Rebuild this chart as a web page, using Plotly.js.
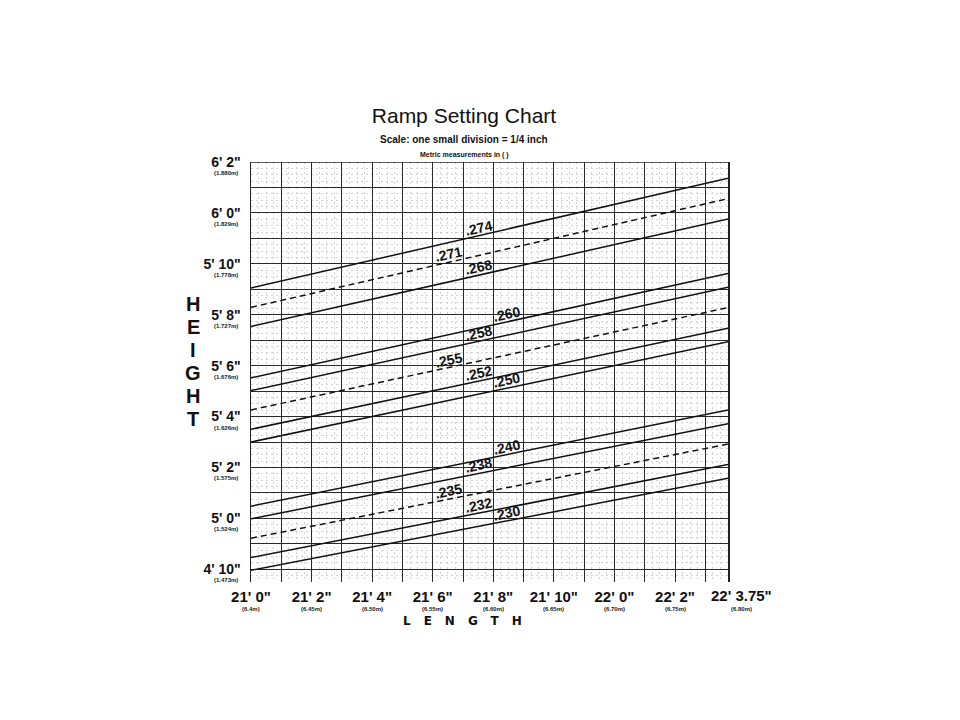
<!DOCTYPE html>
<html><head><meta charset="utf-8">
<script src="https://cdn.plot.ly/plotly-3.0.1.min.js"></script>
<style>html,body{margin:0;padding:0;background:#fff;} #chart{width:960px;height:720px;}</style>
</head><body><div id="chart"></div>
<script>
// ---- data (inches) ----
const slopeLabels = ['.274','.271','.268','.260','.258','.255','.252','.250','.240','.238','.235','.232','.230'];
const lengthStart = 252;      // 21' 0"
const lengthEnd = 267.75;     // 22' 3.75"
const heightAtStart = [69.05, 68.29, 67.54, 65.52, 65.02, 64.26, 63.50, 63.00, 60.48, 59.98, 59.22, 58.46, 57.96];
const heightAtEnd   = [73.36, 72.56, 71.76, 69.62, 69.08, 68.28, 67.47, 66.94, 64.26, 63.72, 62.92, 62.12, 61.58];
const dashedLine = [false, true, false, false, false, true, false, false, false, false, true, false, false];

const xTickVals = [252, 254, 256, 258, 260, 262, 264, 266, 267.75];
const xTickText = ["21' 0\"", "21' 2\"", "21' 4\"", "21' 6\"", "21' 8\"", "21' 10\"", "22' 0\"", "22' 2\"", "22' 3.75\""];
const xMetric = ['(6.4m)', '(6.45m)', '(6.50m)', '(6.55m)', '(6.60m)', '(6.65m)', '(6.70m)', '(6.75m)', '(6.80m)'];

const yTickVals = [58, 60, 62, 64, 66, 68, 70, 72, 74];
const yTickText = ["4' 10\"", "5' 0\"", "5' 2\"", "5' 4\"", "5' 6\"", "5' 8\"", "5' 10\"", "6' 0\"", "6' 2\""];
const yMetric = ['(1.473m)', '(1.524m)', '(1.575m)', '(1.626m)', '(1.676m)', '(1.727m)', '(1.778m)', '(1.829m)', '(1.880m)'];

// ---- layout helpers (positions, not data) ----
const L = 251, R = 728, T = 162, B = 582;           // plot box in page pixels
const px2paperX = px => (px - L) / (R - L);
const py2paperY = py => (B - py) / (B - T);
const labelColumn = [1, 0, 1, 2, 1, 0, 1, 2, 2, 1, 0, 1, 2];
const columnX = [258.52, 259.52, 260.44];
const endLabelShift = 13;   // last length label sits right of its gridline

const traces = slopeLabels.map((lab, i) => ({
  type: 'scatter', mode: 'lines',
  x: [lengthStart, lengthEnd],
  y: [heightAtStart[i], heightAtEnd[i]],
  line: {color: '#111', width: 1.5, dash: dashedLine[i] ? '6px,4px' : 'solid'},
  hoverinfo: 'skip', name: lab
}));

// major grid every inch
const gridX = [];
for (let v = 252; v <= 267; v++) gridX.push(v);
gridX.push(267.75);
const lastX = xTickVals[xTickVals.length - 1];
const gridXText = gridX.map(v => {
  const k = xTickVals.indexOf(v);
  if (k < 0 || v === lastX) return '';
  return '<b>' + xTickText[k] + '</b>';
});
const gridY = [];
for (let v = 58; v <= 74; v++) gridY.push(v);
const gridYText = gridY.map(v => { const k = yTickVals.indexOf(v); return k >= 0 ? '<b>' + yTickText[k] + '</b>' : ''; });

const annotations = [];
slopeLabels.forEach((lab, i) => {
  const lx = columnX[labelColumn[i]];
  const t = (lx - lengthStart) / (lengthEnd - lengthStart);
  const ly = heightAtStart[i] + t * (heightAtEnd[i] - heightAtStart[i]);
  annotations.push({x: lx, y: ly, xref: 'x', yref: 'y', text: '<b>' + lab + '</b>', showarrow: false,
    textangle: -12, yshift: 8, xanchor: 'center', yanchor: 'middle',
    font: {family: 'Liberation Sans Narrow, Arial Narrow, Liberation Sans, sans-serif', size: 14, color: '#111'}});
});
// last length tick label (offset to the right like the original)
annotations.push({x: lastX, y: 0, xref: 'x', yref: 'paper', yshift: -13, xshift: endLabelShift, borderpad: 0,
  text: '<b>' + xTickText[xTickText.length - 1] + '</b>', showarrow: false, xanchor: 'center', yanchor: 'middle',
  font: {size: 15, color: '#111'}});
xMetric.forEach((m, i) => {
  annotations.push({x: xTickVals[i], y: 0, xref: 'x', yref: 'paper', yshift: -27, borderpad: 0,
    xshift: (xTickVals[i] === lastX ? endLabelShift : 0), text: '<b>' + m + '</b>',
    showarrow: false, xanchor: 'center', yanchor: 'middle', font: {size: 6, color: '#222'}});
});
yMetric.forEach((m, i) => {
  annotations.push({x: 0, y: yTickVals[i], xref: 'paper', yref: 'y', xshift: -25, yshift: -11, borderpad: 0, text: '<b>' + m + '</b>',
    showarrow: false, xanchor: 'center', yanchor: 'middle', font: {size: 6, color: '#222'}});
});
// subtitles
annotations.push({x: px2paperX(464), y: py2paperY(139), xref: 'paper', yref: 'paper', text: '<b>Scale: one small division = 1/4 inch</b>',
  showarrow: false, xanchor: 'center', yanchor: 'middle', font: {size: 10, color: '#111'}});
annotations.push({x: px2paperX(464), y: py2paperY(155), xref: 'paper', yref: 'paper', text: '<b>Metric measurements in ( )</b>',
  showarrow: false, xanchor: 'center', yanchor: 'middle', font: {size: 7, color: '#111'}});
// axis words
const heightWord = ['H', 'E', 'I', 'G', 'H', 'T'];
heightWord.forEach((ch, i) => {
  annotations.push({x: px2paperX(193), y: py2paperY(304 + i * 23), xref: 'paper', yref: 'paper', text: '<b>' + ch + '</b>',
    showarrow: false, xanchor: 'center', yanchor: 'middle', borderpad: 0,
    font: {family: 'Liberation Sans Narrow, Arial Narrow, Liberation Sans, sans-serif', size: 20, color: '#111'}});
});
annotations.push({x: px2paperX(469), y: py2paperY(621), xref: 'paper', yref: 'paper', borderpad: 0,
  text: '<b><span style="letter-spacing:13px">LENGTH</span></b>', showarrow: false, xanchor: 'center', yanchor: 'middle',
  font: {family: 'DejaVu Sans, sans-serif', size: 12, color: '#111'}});

const layout = {
  width: 960, height: 720,
  margin: {l: L, r: 960 - R, t: T, b: 720 - B},
  paper_bgcolor: '#fff', plot_bgcolor: '#fff',
  showlegend: false,
  font: {family: 'Liberation Sans, Arial, sans-serif', color: '#111'},
  title: {text: 'Ramp Setting Chart', x: 464 / 960, xanchor: 'center', xref: 'container',
    y: 1 - 116 / 720, yanchor: 'middle', yref: 'container', font: {size: 21, color: '#111'}},
  xaxis: {range: [252, 267.75], tickmode: 'array', tickvals: gridX, ticktext: gridXText, tickangle: 0,
    showgrid: true, gridcolor: '#2a2a2a', gridwidth: 1, zeroline: false, showline: false, ticks: '',
    ticklabelstandoff: 4, tickfont: {size: 15, color: '#111'}, automargin: false,
    minor: {tickmode: 'linear', tick0: 252, dtick: 0.25, showgrid: true, gridcolor: '#d2d2d2', griddash: '2px,3px', gridwidth: 1},
    fixedrange: true},
  yaxis: {range: [57.5, 74], tickmode: 'array', tickvals: gridY, ticktext: gridYText,
    showgrid: true, gridcolor: '#2a2a2a', gridwidth: 1, zeroline: false, showline: true, mirror: true,
    linecolor: '#222', linewidth: 1.5, ticks: '', ticklabelstandoff: 6, tickfont: {size: 14, color: '#111'}, automargin: false,
    minor: {tickmode: 'linear', tick0: 58, dtick: 0.25, showgrid: true, gridcolor: '#d2d2d2', griddash: '2px,3px', gridwidth: 1},
    fixedrange: true},
  shapes: [{type: 'line', xref: 'paper', yref: 'y', x0: 0, x1: 1, y0: 74, y1: 74, line: {color: '#222', width: 1.5}}],
  annotations: annotations
};

Plotly.newPlot('chart', traces, layout, {displayModeBar: false, staticPlot: true});
</script>
</body></html>
